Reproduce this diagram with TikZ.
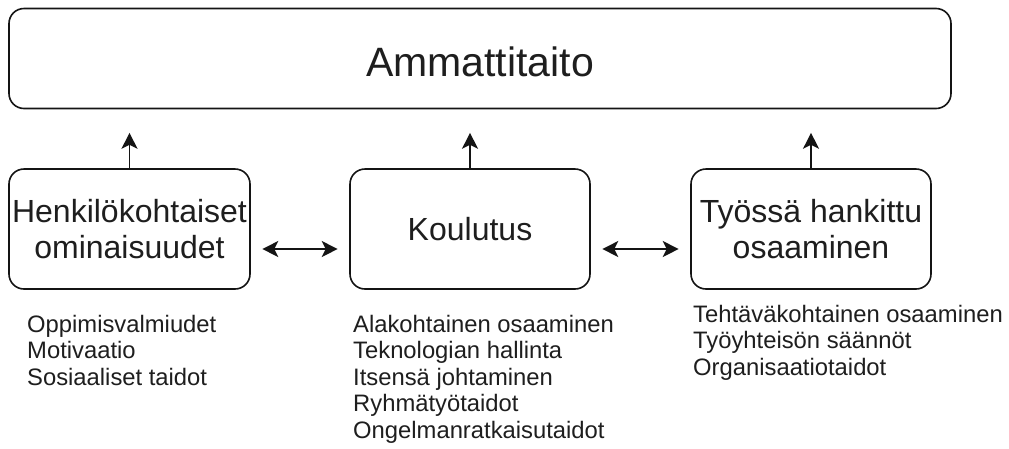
\documentclass[tikz,border=0pt]{standalone}
\usepackage{fontspec}
\setmainfont{Liberation Sans}
\usetikzlibrary{arrows.meta}
\definecolor{linec}{RGB}{20,20,20}
\definecolor{textc}{RGB}{30,30,30}
\tikzset{
  tip/.tip={Stealth[length=16pt,width=16pt,inset=4pt]},
  box/.style={draw=linec, line width=1.6pt, rounded corners=15pt, inner sep=2pt,
    align=center, text=textc, font=\fontsize{32}{36}\selectfont},
  arr/.style={draw=linec, line width=1.6pt, -tip},
  darr/.style={draw=linec, line width=1.6pt, tip-tip, shorten <=11.5pt, shorten >=11.5pt},
  listtxt/.style={anchor=base west, inner sep=0pt, text=textc, font=\fontsize{23.8}{26}\selectfont}
}
\begin{document}
\begin{tikzpicture}[x=1pt,y=-1pt]
\useasboundingbox[fill=white] (0,0) rectangle (1009,448);
\node[box, minimum width=942pt, minimum height=100pt, font=\fontsize{41}{46}\selectfont, text height=35pt, text depth=0pt] (top) at (480,58.5) {Ammattitaito};
\node[box, minimum width=241pt, minimum height=120pt] (h) at (129.5,229) {Henkilökohtaiset\\ominaisuudet};
\node[box, minimum width=240pt, minimum height=120pt] (k) at (470,229) {Koulutus};
\node[box, minimum width=240pt, minimum height=120pt] (t) at (811,229) {Työssä hankittu\\osaaminen};
\draw[arr, shorten >=23.5pt] (h.north) -- (h.north |- top.south);
\draw[arr, shorten >=23.5pt] (k.north) -- (k.north |- top.south);
\draw[arr, shorten >=23.5pt] (t.north) -- (t.north |- top.south);
\draw[darr] ([yshift=-20pt]h.east) -- ([yshift=-20pt]k.west);
\draw[darr] ([yshift=-20pt]k.east) -- ([yshift=-20pt]t.west);
\node[listtxt] (h1) at (27,332) {Oppimisvalmiudet};
\node[listtxt] (h2) at (27,358.5) {Motivaatio};
\node[listtxt] (h3) at (27,385) {Sosiaaliset taidot};
\node[listtxt] (k1) at (353,332) {Alakohtainen osaaminen};
\node[listtxt] (k2) at (353,358.5) {Teknologian hallinta};
\node[listtxt] (k3) at (353,385) {Itsensä johtaminen};
\node[listtxt] (k4) at (353,411.5) {Ryhmätyötaidot};
\node[listtxt] (k5) at (353,438) {Ongelmanratkaisutaidot};
\node[listtxt] (t1) at (693,322) {Tehtäväkohtainen osaaminen};
\node[listtxt] (t2) at (693,348.5) {Työyhteisön säännöt};
\node[listtxt] (t3) at (693,375) {Organisaatiotaidot};
\end{tikzpicture}
\end{document}
